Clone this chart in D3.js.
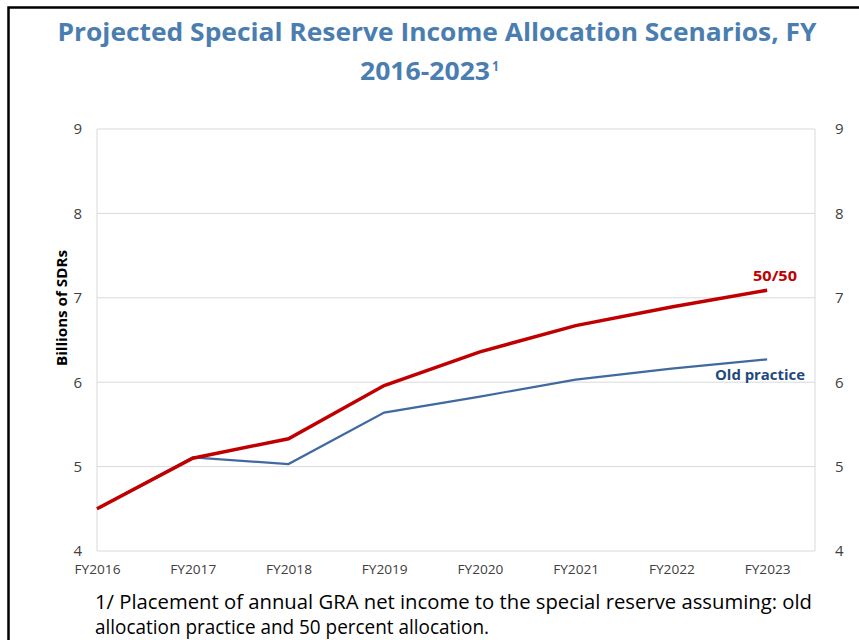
<!DOCTYPE html>
<html>
<head>
<meta charset="utf-8">
<script src="https://cdn.jsdelivr.net/npm/d3@7"></script>
<style>
  body { margin: 0; background: #fff; }
  svg { display: block; }
</style>
</head>
<body>
<svg id="chart" width="859" height="640"></svg>
<script>
// categories and series values
const years = ['FY2016', 'FY2017', 'FY2018', 'FY2019', 'FY2020', 'FY2021', 'FY2022', 'FY2023'];
const fiftyFifty = [4.50, 5.10, 5.33, 5.96, 6.36, 6.67, 6.89, 7.09];
const oldPractice = [4.50, 5.11, 5.03, 5.64, 5.83, 6.03, 6.16, 6.27];
const yTicks = [4, 5, 6, 7, 8, 9];

const width = 859;
const height = 640;
const plot = { left: 97, right: 815, top: 129, bottom: 551 };

const svg = d3.select('#chart');
const font = "'Open Sans', 'DejaVu Sans', sans-serif";

// outer frame (only top and left edges visible)
svg.append('rect')
    .attr('x', 8.5).attr('y', 7.5)
    .attr('width', width + 20).attr('height', height + 20)
    .attr('fill', 'none')
    .attr('stroke', '#000')
    .attr('stroke-width', 2.5);

// title
svg.append('text')
    .attr('x', 437).attr('y', 41)
    .attr('text-anchor', 'middle')
    .attr('font-family', font)
    .attr('font-weight', 'bold')
    .attr('font-size', 25)
    .attr('fill', '#4A7EB0')
    .attr('textLength', 759)
    .attr('lengthAdjust', 'spacingAndGlyphs')
    .text('Projected Special Reserve Income Allocation Scenarios, FY');
svg.append('text')
    .attr('x', 425).attr('y', 80)
    .attr('text-anchor', 'middle')
    .attr('font-family', font)
    .attr('font-weight', 'bold')
    .attr('font-size', 25)
    .attr('fill', '#4A7EB0')
    .attr('textLength', 130)
    .attr('lengthAdjust', 'spacingAndGlyphs')
    .text('2016-2023');
svg.append('text')
    .attr('x', 492).attr('y', 71)
    .attr('font-family', font)
    .attr('font-weight', 'bold')
    .attr('font-size', 15)
    .attr('fill', '#4A7EB0')
    .attr('textLength', 7)
    .attr('lengthAdjust', 'spacingAndGlyphs')
    .text('1');

// scales
const x = d3.scaleLinear()
    .domain([0, 7.5])
    .range([plot.left, plot.right]);
const y = d3.scaleLinear()
    .domain([4, 9])
    .range([plot.bottom, plot.top]);

// gridlines
svg.append('g')
    .selectAll('line')
    .data(yTicks)
    .enter()
    .append('line')
    .attr('x1', plot.left).attr('x2', plot.right)
    .attr('y1', d => y(d)).attr('y2', d => y(d))
    .attr('stroke', '#D9D9D9')
    .attr('stroke-width', 1);

// plot box sides
svg.append('line')
    .attr('x1', plot.left).attr('x2', plot.left)
    .attr('y1', plot.top).attr('y2', plot.bottom)
    .attr('stroke', '#D9D9D9');
svg.append('line')
    .attr('x1', plot.right).attr('x2', plot.right)
    .attr('y1', plot.top).attr('y2', plot.bottom)
    .attr('stroke', '#D9D9D9');

// left axis
const leftAxis = svg.append('g')
    .attr('transform', `translate(${plot.left - 15},0)`)
    .call(d3.axisLeft(y).tickValues(yTicks).tickFormat(d3.format('d')).tickSize(0).tickPadding(0));
leftAxis.select('.domain').remove();
leftAxis.selectAll('text')
    .attr('font-family', font)
    .attr('font-size', 15)
    .attr('fill', '#404040');

// right axis
const rightAxis = svg.append('g')
    .attr('transform', `translate(${plot.right + 20},0)`)
    .call(d3.axisRight(y).tickValues(yTicks).tickFormat(d3.format('d')).tickSize(0).tickPadding(0));
rightAxis.select('.domain').remove();
rightAxis.selectAll('text')
    .attr('font-family', font)
    .attr('font-size', 15)
    .attr('fill', '#404040');

// bottom axis
const bottomAxis = svg.append('g')
    .attr('transform', `translate(0,${plot.bottom + 14})`)
    .call(d3.axisBottom(x)
        .tickValues(d3.range(years.length))
        .tickFormat(i => years[i])
        .tickSize(0).tickPadding(0));
bottomAxis.select('.domain').remove();
bottomAxis.selectAll('text')
    .attr('font-family', font)
    .attr('font-size', 12)
    .attr('fill', '#404040')
    .attr('textLength', 46)
    .attr('lengthAdjust', 'spacingAndGlyphs');

// y axis title
svg.append('text')
    .attr('transform', 'translate(67,308) rotate(-90)')
    .attr('text-anchor', 'middle')
    .attr('font-family', font)
    .attr('font-weight', 'bold')
    .attr('font-size', 14)
    .attr('fill', '#000')
    .attr('textLength', 116)
    .attr('lengthAdjust', 'spacingAndGlyphs')
    .text('Billions of SDRs');

// lines
const line = d3.line()
    .x((d, i) => x(i))
    .y(d => y(d));

svg.append('path')
    .datum(oldPractice)
    .attr('d', line)
    .attr('fill', 'none')
    .attr('stroke', '#4069A0')
    .attr('stroke-width', 2.2);

svg.append('path')
    .datum(fiftyFifty)
    .attr('d', line)
    .attr('fill', 'none')
    .attr('stroke', '#C00000')
    .attr('stroke-width', 3.5);

// series labels
svg.append('text')
    .attr('x', 797).attr('y', 281)
    .attr('text-anchor', 'end')
    .attr('font-family', font)
    .attr('font-weight', 'bold')
    .attr('font-size', 15)
    .attr('fill', '#C00000')
    .attr('textLength', 44)
    .attr('lengthAdjust', 'spacingAndGlyphs')
    .text('50/50');
svg.append('text')
    .attr('x', 805).attr('y', 380)
    .attr('text-anchor', 'end')
    .attr('font-family', font)
    .attr('font-weight', 'bold')
    .attr('font-size', 15)
    .attr('fill', '#1F497D')
    .attr('textLength', 90)
    .attr('lengthAdjust', 'spacingAndGlyphs')
    .text('Old practice');

// footnote
const note = svg.append('text')
    .attr('font-family', font)
    .attr('font-size', 19.5)
    .attr('fill', '#000');
note.append('tspan')
    .attr('x', 95).attr('y', 609)
    .attr('textLength', 717)
    .attr('lengthAdjust', 'spacingAndGlyphs')
    .text('1/ Placement of annual GRA net income to the special reserve assuming: old');
note.append('tspan')
    .attr('x', 95).attr('y', 634)
    .attr('textLength', 394)
    .attr('lengthAdjust', 'spacingAndGlyphs')
    .text('allocation practice and 50 percent allocation.');
</script>
</body>
</html>
